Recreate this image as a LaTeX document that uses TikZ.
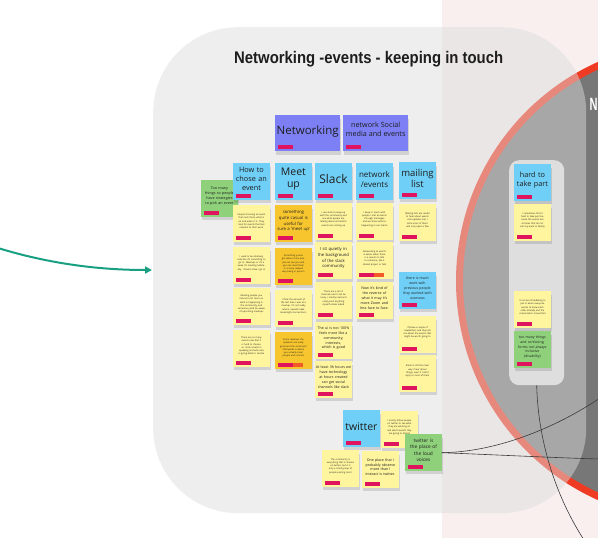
\documentclass[tikz,border=0pt]{standalone}
\usepackage{fontspec}
\setmainfont{Open Sans}
\newfontfamily\titlefont{Liberation Sans}
\usetikzlibrary{arrows.meta}
\definecolor{stkyellow}{HTML}{FFF59F}
\definecolor{stkorange}{HTML}{F7C62F}
\definecolor{stkblue}{HTML}{6FCFF6}
\definecolor{stkgreen}{HTML}{8FD17B}
\definecolor{stkpurple}{HTML}{7C80F4}
\definecolor{tagpink}{HTML}{E0135E}
\definecolor{tagorange}{HTML}{F25A2A}
\definecolor{pinkbg}{HTML}{F9EFEF}
\definecolor{ringred}{HTML}{EF3B24}
\definecolor{circgray}{HTML}{777777}
\definecolor{panelgray}{HTML}{DDDDDD}
\definecolor{boxgray}{HTML}{DEDEDE}
\definecolor{arrowteal}{HTML}{19A083}
\definecolor{linegray}{HTML}{3A3A3A}
\definecolor{inkc}{HTML}{1E1E1E}
\newcommand\tinyf{\fontsize{2.3}{3.2}\selectfont}
\newcommand\smallf{\fontsize{3.7}{5}\selectfont}
\tikzset{
  stickybox/.style={anchor=north west, inner sep=0pt, minimum width=36.5pt, minimum height=37pt},
  stickytext/.style={inner sep=0pt, align=center, text=inkc},
  stkshadow/.style={fill=black, opacity=0.12},
  connector/.style={draw=linegray, line width=0.6pt},
}
\newcommand\sticky[7][36pt]{%
  \fill[stkshadow] (#3+1,#4+4) rectangle (#3+37.5,#4+40);
  \node[stickybox, fill=#5] (#2) at (#3,#4) {};
  \node[stickytext, text width=#1, font=#6] (#2-t) at ([yshift=2.5pt]#2.center) {#7};
  \fill[tagpink] ([shift={(2.5pt,2.5pt)}]#2.south west) rectangle ++(15pt,4pt);
}
\newcommand\extratag[1]{%
  \fill[tagorange] ([shift={(17.5pt,2.5pt)}]#1.south west) rectangle ++(10pt,4pt);
}
\begin{document}
\begin{tikzpicture}[x=1pt,y=-1pt]
\useasboundingbox (0,0) rectangle (598,538);
\clip (0,0) rectangle (598,538);
% backgrounds
\fill[white] (0,0) rectangle (598,538);
\fill[pinkbg] (442,0) rectangle (598,538);
\node[circle, minimum size=473pt, inner sep=0pt, draw=ringred, line width=7pt, fill=circgray] (bigcircle) at (696,281) {};
\node[anchor=base west, inner sep=0pt, text=white] (ntitle) at (589.5,110) {\resizebox{8pt}{12.2pt}{\titlefont\bfseries N}};
\node[anchor=north west, inner sep=0pt, minimum width=433pt, minimum height=486pt, rounded corners=85pt, fill=panelgray, fill opacity=0.48] (panel) at (153,27) {};
\node[anchor=north west, inner sep=0pt, minimum width=55pt, minimum height=225pt, rounded corners=10pt, fill=boxgray] (hardbox) at (509,160) {};
% title
\node[anchor=base west, inner sep=0pt, text=inkc] (title) at (234,63.3) {\resizebox{269pt}{12.2pt}{\titlefont\bfseries Networking -events - keeping in touch}};

% header stickies
\fill[stkshadow] (276,119) rectangle (341,155);
\node[anchor=north west, inner sep=0pt, minimum width=65pt, minimum height=36pt, fill=stkpurple] (hnet) at (275,115) {};
\node[inner sep=0pt, text=inkc, font=\fontsize{11.5}{13}\selectfont] (hnet-t) at ([yshift=2pt]hnet.center) {Networking};
\fill[tagpink] ([shift={(2.5pt,2.5pt)}]hnet.south west) rectangle ++(15pt,4pt);
\fill[stkshadow] (344,119) rectangle (409,155);
\node[anchor=north west, inner sep=0pt, minimum width=65pt, minimum height=36pt, fill=stkpurple] (hsoc) at (343,115) {};
\node[inner sep=0pt, text=inkc, align=center, font=\fontsize{7.2}{9.5}\selectfont] (hsoc-t) at ([yshift=4pt]hsoc.center) {network Social\\media and events};
\fill[tagpink] ([shift={(2.5pt,2.5pt)}]hsoc.south west) rectangle ++(15pt,4pt);

% left green
\sticky{gtoo}{201}{180}{stkgreen}{\smallf}{Too many\\things so people\\have strategies\\to pick an event}

% column headers
\sticky{chow}{233}{163}{stkblue}{\fontsize{7.3}{9}\selectfont}{How to\\chose an\\event}
\sticky{cmeet}{275}{163}{stkblue}{\fontsize{10.5}{12.5}\selectfont}{Meet\\up}
\sticky{cslack}{315}{163}{stkblue}{\fontsize{12}{14}\selectfont}{Slack}
\sticky{cnet}{356}{163}{stkblue}{\fontsize{8}{10}\selectfont}{network\\/events}
\sticky{cmail}{399}{162}{stkblue}{\fontsize{9.5}{11.5}\selectfont}{mailing\\list}

% column 1
\sticky[28pt]{a1}{233}{205}{stkyellow}{\tinyf}{People choosing an event that suits them, what is on and when it is. They look for events that feel relevant to their work}
\sticky[28pt]{a2}{233}{247}{stkyellow}{\tinyf}{I used to be relatively selective it's something to go to. Meetups or it's a week it's meeting habitually. I found a few I go to}
\sticky[28pt]{a3}{233}{288}{stkyellow}{\tinyf}{Meeting people you interact a lot more on what is happening in the community, and someone you'd be aware of upcoming meetups}
\sticky[28pt]{a4}{233}{330}{stkyellow}{\tinyf}{There are so many events now that it is hard to choose, so I look at who is speaking and who else is going before I decide}

% column 2
\sticky{b1}{275}{205}{stkorange}{\fontsize{4.3}{5.6}\selectfont}{something\\quite casual is\\useful for\\sure a `meet up'}
\sticky[28pt]{b2}{275}{248}{stkorange}{\tinyf}{Something you've got where more people can see you and you can meet them in a more relaxed way being in person}
\sticky[28pt]{b3}{275}{290}{stkyellow}{\tinyf}{I think the amount of the last time I was at a meetup. It's not really where I would make meaningful connections.}
\sticky[28pt]{b4}{275}{332}{stkorange}{\tinyf}{Some meetups the speakers are really good and the social part afterwards is where you actually meet people and connect}
\extratag{b4}

% column slack
\sticky[28pt]{s1}{315}{203}{stkyellow}{\tinyf}{I use slack to keep up with the community and see what people are talking about and which events are coming up}
\sticky{s2}{315}{242}{stkyellow}{\fontsize{4.2}{5.6}\selectfont}{I sit quietly in\\the background\\of the slack\\community}
\sticky[28pt]{s3}{315}{282}{stkyellow}{\tinyf}{There are a lot of channels and it can be noisy, I mostly read and rarely post anything myself unless asked}
\sticky{s4}{315}{322}{stkyellow}{\fontsize{3.6}{4.9}\selectfont}{The ui is not 100\%\\feels more like a\\community, interests,\\which is good}
\sticky{s5}{315}{361}{stkyellow}{\fontsize{3.6}{4.9}\selectfont}{At least 3h hours we\\have technology\\at hours created\\can get social\\channels like slack}

% column network/events
\sticky[28pt]{n1}{356}{203}{stkyellow}{\tinyf}{I keep in touch with people I met at events through messages and we share what is happening in our teams}
\sticky[28pt]{n2}{356}{242}{stkyellow}{\tinyf}{Networking at events is easier when there is a reason to talk to someone, like a shared project or talk}
\extratag{n2}
\sticky{n3}{356}{282}{stkyellow}{\fontsize{3.6}{4.9}\selectfont}{Now it's kind of\\the reverse of\\what it may it's\\more Zoom and\\less face to face.}

% column mailing list
\sticky[28pt]{m1}{399}{204}{stkyellow}{\tinyf}{Mailing lists are useful to hear about events and updates, but I skim most of them and only open a few}
\sticky{m2}{399}{272}{stkblue}{\fontsize{3.5}{4.8}\selectfont}{there is much work with\\previous people\\they worked with\\overseas}
\sticky[28pt]{m3}{399}{316}{stkyellow}{\tinyf}{I follow a couple of newsletters and they tell me about the events that might be worth going to}
\sticky[28pt]{m4}{399}{355}{stkyellow}{\tinyf}{Email is still the main way I hear about things, even if I don't reply to most of them}

% twitter group
\sticky{tw}{343}{410}{stkblue}{\fontsize{10.5}{12.5}\selectfont}{twitter}
\sticky[28pt]{t1}{381}{411}{stkyellow}{\tinyf}{I mostly follow people on twitter to see what they are working on and which events they are going to attend}
\sticky[28pt]{t2}{322}{450}{stkyellow}{\tinyf}{The community is everything that is shared on twitter, but it is only a small group of people posting most}
\sticky{t3}{362}{451}{stkyellow}{\fontsize{3.6}{4.9}\selectfont}{One place that I\\probably observe\\more than I\\interact is twitter.}
\sticky{tg}{405}{434}{stkgreen}{\fontsize{4.8}{6.6}\selectfont}{twitter is\\the place of\\the loud\\voices}

% hard to take part
\sticky{h0}{514}{164}{stkblue}{\fontsize{7.3}{9}\selectfont}{hard to\\take part}
\sticky[28pt]{h1}{514}{204}{stkyellow}{\tinyf}{I sometimes find it hard to take part because the events are at times that do not suit my work or family}
\sticky[28pt]{h2}{514}{291}{stkyellow}{\tinyf}{It can be intimidating to join in when everyone seems to know each other already and the conversation moves fast}
\sticky{h3}{514}{331}{stkgreen}{\fontsize{3.5}{4.8}\selectfont}{too many things\\and confusing,\\forms not always\\inclusive\\(disability)}

% connectors
\coordinate (e1) at (600,459);
\coordinate (e2) at (600,398);
\coordinate (e3) at (584,540);
\draw[connector] (tg.east) .. controls (500,455) and (560,458) .. (e1);
\draw[connector] (tg.east) .. controls (500,452) and (560,425) .. (e2);
\draw[connector] (hardbox.south) .. controls (538,440) and (555,495) .. (e3);

% teal arrow
\coordinate (astart) at (-2,248);
\coordinate (aend) at (152,270);
\draw[arrowteal, line width=2pt, -{Triangle[length=7pt,width=7pt]}] (astart) .. controls (50,264) and (100,270) .. (aend);
\end{tikzpicture}
\end{document}
